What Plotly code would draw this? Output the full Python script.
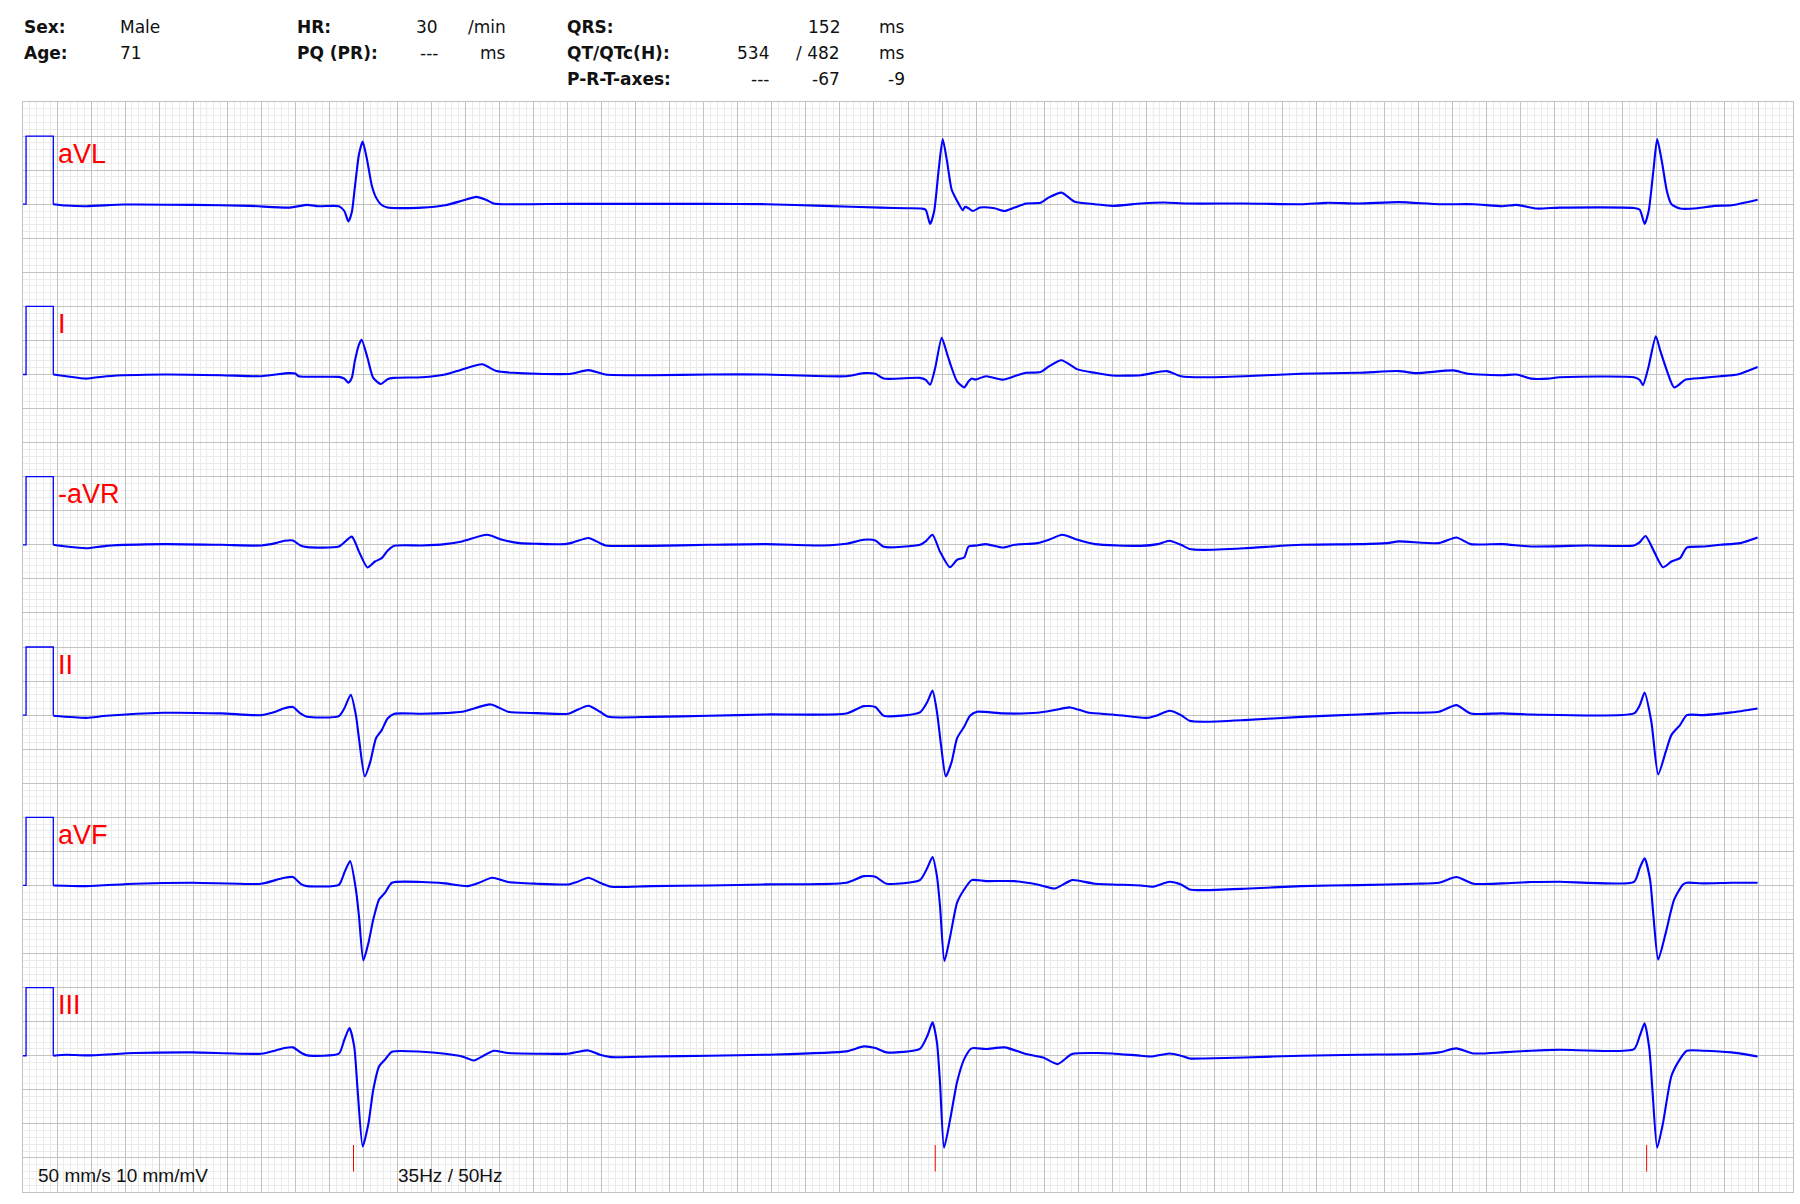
import plotly.graph_objects as go

# ---------------- data (time in s, amplitude in mV) ----------------
lead_names = ["aVL", "I", "-aVR", "II", "aVF", "III"]

cal_t = [0.0, 0.009, 0.009, 0.089, 0.089]
cal_mv = [0.0, 0.0, 1.0, 1.0, 0.0]

qrs_marks_t = [0.971, 2.680, 4.770]

avl_pts = [
    (0.089, 0.0), (0.127, -0.02), (0.186, -0.03), (0.296, -0.005), (0.498, -0.01),
    (0.666, -0.025), (0.784, -0.05), (0.835, -0.01), (0.869, -0.03), (0.928, -0.03),
    (0.944, -0.1), (0.956, -0.255), (0.966, -0.12), (0.975, 0.25), (0.987, 0.73),
    (0.998, 0.92), (1.012, 0.62), (1.024, 0.29), (1.037, 0.1), (1.051, 0.0),
    (1.071, -0.05), (1.172, -0.05), (1.240, -0.015), (1.290, 0.05), (1.332, 0.108),
    (1.358, 0.07), (1.383, 0.01), (1.408, 0.0), (1.610, 0.005), (1.846, 0.005),
    (2.015, 0.005), (2.183, 0.0), (2.352, -0.025), (2.520, -0.05), (2.600, -0.06),
    (2.640, -0.064), (2.652, -0.08), (2.665, -0.29), (2.677, -0.1), (2.690, 0.5),
    (2.702, 0.955), (2.715, 0.62), (2.728, 0.22), (2.744, 0.05), (2.761, -0.09),
    (2.767, -0.04), (2.778, -0.06), (2.790, -0.1), (2.812, -0.05), (2.854, -0.06),
    (2.883, -0.1), (2.913, -0.05), (2.947, 0.01), (2.989, 0.02), (3.014, 0.1),
    (3.051, 0.17), (3.090, 0.035), (3.149, 0.0), (3.200, -0.025), (3.284, 0.01),
    (3.351, 0.025), (3.419, 0.01), (3.587, 0.01), (3.756, 0.0), (3.830, 0.02),
    (3.924, 0.01), (4.042, 0.03), (4.160, 0.0), (4.261, 0.0), (4.346, -0.03),
    (4.388, -0.01), (4.447, -0.064), (4.514, -0.05), (4.733, -0.055), (4.750, -0.08),
    (4.764, -0.29), (4.776, -0.1), (4.790, 0.5), (4.801, 0.955), (4.815, 0.62),
    (4.830, 0.18), (4.843, 0.0), (4.868, -0.064), (4.919, -0.06), (4.969, -0.025),
    (5.020, -0.015), (5.096, 0.065),
]

i_pts = [
    (0.089, 0.0), (0.127, -0.025), (0.186, -0.06), (0.245, -0.025), (0.414, 0.0),
    (0.582, -0.01), (0.700, -0.025), (0.742, 0.0), (0.780, 0.02), (0.800, 0.015),
    (0.810, -0.025), (0.928, -0.035), (0.944, -0.06), (0.956, -0.12), (0.966, -0.05),
    (0.975, 0.2), (0.987, 0.44), (0.995, 0.51), (1.012, 0.245), (1.029, -0.05),
    (1.051, -0.14), (1.071, -0.07), (1.088, -0.05), (1.172, -0.04), (1.240, 0.0),
    (1.290, 0.075), (1.349, 0.15), (1.391, 0.05), (1.440, 0.025), (1.509, 0.01),
    (1.610, 0.01), (1.661, 0.064), (1.711, 0.0), (1.846, -0.01), (2.015, 0.0),
    (2.183, 0.0), (2.419, -0.025), (2.470, 0.02), (2.504, 0.01), (2.529, -0.06),
    (2.635, -0.05), (2.652, -0.08), (2.665, -0.15), (2.680, 0.1), (2.699, 0.54),
    (2.715, 0.3), (2.728, 0.1), (2.744, -0.1), (2.765, -0.19), (2.778, -0.1),
    (2.787, -0.06), (2.798, -0.075), (2.829, -0.025), (2.879, -0.075), (2.913, -0.025),
    (2.947, 0.025), (2.989, 0.035), (3.014, 0.12), (3.051, 0.21), (3.098, 0.075),
    (3.149, 0.025), (3.200, -0.015), (3.284, -0.01), (3.360, 0.05), (3.402, -0.025),
    (3.469, -0.04), (3.587, -0.025), (3.756, 0.01), (3.924, 0.025), (4.042, 0.05),
    (4.093, 0.02), (4.202, 0.06), (4.245, 0.01), (4.346, -0.01), (4.388, 0.0),
    (4.430, -0.06), (4.481, -0.06), (4.514, -0.04), (4.733, -0.04), (4.750, -0.08),
    (4.759, -0.157), (4.775, 0.1), (4.797, 0.56), (4.810, 0.35), (4.830, 0.05),
    (4.851, -0.19), (4.885, -0.075), (4.936, -0.05), (4.986, -0.025), (5.037, 0.0),
    (5.096, 0.11),
]

maVR_pts = [
    (0.089, 0.0), (0.127, -0.025), (0.186, -0.05), (0.245, -0.015), (0.414, 0.01),
    (0.582, 0.0), (0.700, -0.01), (0.742, 0.025), (0.768, 0.06), (0.793, 0.064),
    (0.815, -0.01), (0.835, -0.034), (0.928, -0.025), (0.966, 0.12), (0.987, -0.1),
    (1.012, -0.333), (1.034, -0.245), (1.054, -0.196), (1.071, -0.088), (1.091, -0.015),
    (1.172, -0.01), (1.240, 0.01), (1.290, 0.05), (1.363, 0.147), (1.408, 0.074),
    (1.459, 0.025), (1.509, 0.015), (1.593, 0.01), (1.619, 0.04), (1.661, 0.1),
    (1.695, 0.025), (1.711, -0.01), (1.846, -0.015), (2.015, 0.0), (2.183, 0.01),
    (2.352, -0.01), (2.419, 0.015), (2.470, 0.074), (2.504, 0.064), (2.529, -0.03),
    (2.635, 0.0), (2.652, 0.05), (2.672, 0.147), (2.694, -0.1), (2.723, -0.33),
    (2.744, -0.22), (2.765, -0.186), (2.778, -0.025), (2.803, -0.01), (2.829, 0.01),
    (2.879, -0.04), (2.913, 0.0), (2.980, 0.025), (3.014, 0.074), (3.053, 0.147),
    (3.098, 0.074), (3.149, 0.01), (3.284, -0.015), (3.334, 0.01), (3.368, 0.06),
    (3.402, 0.0), (3.427, -0.06), (3.469, -0.074), (3.587, -0.05), (3.756, 0.0),
    (3.924, 0.01), (4.008, 0.025), (4.042, 0.05), (4.160, 0.025), (4.211, 0.108),
    (4.253, 0.01), (4.346, 0.01), (4.430, -0.025), (4.598, -0.01), (4.733, -0.01),
    (4.750, 0.04), (4.767, 0.13), (4.792, -0.1), (4.818, -0.33), (4.843, -0.245),
    (4.868, -0.196), (4.888, -0.04), (4.936, -0.025), (4.986, 0.0), (5.045, 0.025),
    (5.096, 0.108),
]

ii_pts = [
    (0.089, -0.01), (0.186, -0.04), (0.245, -0.01), (0.414, 0.034), (0.582, 0.025),
    (0.700, 0.0), (0.742, 0.05), (0.768, 0.1), (0.793, 0.12), (0.815, 0.025),
    (0.835, -0.025), (0.928, -0.015), (0.944, 0.1), (0.963, 0.30), (0.978, 0.0),
    (0.987, -0.34), (1.004, -0.9), (1.020, -0.69), (1.037, -0.34), (1.054, -0.22),
    (1.071, -0.05), (1.091, 0.02), (1.172, 0.02), (1.290, 0.05), (1.374, 0.157),
    (1.425, 0.05), (1.509, 0.03), (1.602, 0.02), (1.627, 0.074), (1.661, 0.137),
    (1.695, 0.05), (1.720, -0.025), (1.846, -0.025), (2.015, -0.01), (2.183, 0.01),
    (2.419, 0.025), (2.470, 0.132), (2.504, 0.12), (2.529, -0.01), (2.635, 0.04),
    (2.657, 0.196), (2.672, 0.36), (2.685, 0.05), (2.697, -0.44), (2.711, -0.9),
    (2.728, -0.69), (2.744, -0.34), (2.765, -0.17), (2.782, -0.01), (2.803, 0.05),
    (2.879, 0.025), (2.980, 0.034), (3.031, 0.074), (3.076, 0.113), (3.132, 0.034),
    (3.200, 0.01), (3.301, -0.04), (3.334, 0.0), (3.368, 0.064), (3.402, 0.0),
    (3.427, -0.083), (3.469, -0.098), (3.587, -0.074), (3.756, -0.025), (3.924, 0.01),
    (4.042, 0.034), (4.160, 0.05), (4.211, 0.147), (4.253, 0.025), (4.346, 0.025),
    (4.430, 0.01), (4.733, 0.025), (4.750, 0.147), (4.764, 0.33), (4.784, -0.1),
    (4.804, -0.87), (4.826, -0.54), (4.843, -0.29), (4.868, -0.147), (4.888, 0.0),
    (4.936, 0.0), (5.020, 0.04), (5.096, 0.098),
]

avf_pts = [
    (0.089, 0.0), (0.186, -0.01), (0.329, 0.025), (0.498, 0.04), (0.700, 0.025),
    (0.742, 0.078), (0.768, 0.113), (0.793, 0.123), (0.818, 0.015), (0.835, -0.01),
    (0.928, 0.01), (0.944, 0.186), (0.961, 0.358), (0.978, -0.06), (0.987, -0.45),
    (1.000, -1.10), (1.015, -0.84), (1.029, -0.5), (1.046, -0.206), (1.063, -0.11),
    (1.084, 0.04), (1.172, 0.05), (1.240, 0.03), (1.307, -0.01), (1.340, 0.04),
    (1.378, 0.113), (1.425, 0.05), (1.509, 0.025), (1.602, 0.015), (1.627, 0.05),
    (1.661, 0.113), (1.695, 0.04), (1.728, -0.02), (1.846, -0.01), (2.015, 0.0),
    (2.183, 0.015), (2.419, 0.04), (2.470, 0.137), (2.504, 0.127), (2.537, 0.025),
    (2.635, 0.078), (2.657, 0.26), (2.672, 0.417), (2.685, 0.137), (2.694, -0.30),
    (2.707, -1.11), (2.724, -0.745), (2.744, -0.255), (2.765, -0.06), (2.787, 0.078),
    (2.829, 0.064), (2.913, 0.064), (2.980, 0.015), (3.031, -0.044), (3.082, 0.078),
    (3.149, 0.025), (3.284, 0.0), (3.318, -0.02), (3.368, 0.054), (3.402, 0.015),
    (3.427, -0.059), (3.469, -0.069), (3.587, -0.049), (3.756, -0.01), (3.924, 0.005),
    (4.093, 0.025), (4.160, 0.04), (4.211, 0.123), (4.261, 0.025), (4.346, 0.03),
    (4.430, 0.05), (4.514, 0.054), (4.733, 0.054), (4.750, 0.26), (4.764, 0.397),
    (4.780, 0.088), (4.790, -0.45), (4.804, -1.09), (4.826, -0.70), (4.851, -0.206),
    (4.877, 0.015), (4.888, 0.04), (4.936, 0.03), (5.020, 0.04), (5.096, 0.04),
]

iii_pts = [
    (0.089, 0.0), (0.127, 0.015), (0.186, 0.005), (0.329, 0.04), (0.498, 0.049),
    (0.700, 0.03), (0.742, 0.078), (0.768, 0.113), (0.793, 0.123), (0.818, 0.04),
    (0.835, 0.005), (0.928, 0.03), (0.944, 0.235), (0.959, 0.407), (0.973, 0.137),
    (0.983, -0.50), (0.998, -1.33), (1.015, -0.99), (1.029, -0.50), (1.046, -0.157),
    (1.063, -0.059), (1.084, 0.059), (1.172, 0.059), (1.240, 0.03), (1.290, -0.01),
    (1.324, -0.069), (1.358, 0.015), (1.383, 0.074), (1.425, 0.04), (1.509, 0.03),
    (1.602, 0.03), (1.627, 0.054), (1.661, 0.078), (1.695, 0.015), (1.728, -0.02),
    (1.846, -0.01), (2.015, 0.0), (2.183, 0.015), (2.419, 0.064), (2.470, 0.137),
    (2.504, 0.113), (2.537, 0.049), (2.635, 0.1), (2.657, 0.294), (2.672, 0.49),
    (2.685, 0.196), (2.694, -0.39), (2.706, -1.35), (2.724, -0.93), (2.744, -0.39),
    (2.765, -0.049), (2.787, 0.108), (2.829, 0.098), (2.884, 0.123), (2.947, 0.025),
    (2.997, -0.025), (3.039, -0.123), (3.082, 0.025), (3.149, 0.04), (3.200, 0.034),
    (3.284, 0.0), (3.318, -0.01), (3.368, 0.034), (3.402, 0.0), (3.427, -0.04),
    (3.469, -0.04), (3.587, -0.025), (3.756, 0.0), (3.924, 0.015), (4.093, 0.025),
    (4.160, 0.049), (4.211, 0.108), (4.261, 0.034), (4.346, 0.049), (4.430, 0.074),
    (4.514, 0.088), (4.733, 0.098), (4.750, 0.294), (4.764, 0.475), (4.778, 0.098),
    (4.787, -0.50), (4.801, -1.35), (4.818, -0.99), (4.843, -0.294), (4.868, -0.049),
    (4.888, 0.074), (4.936, 0.074), (5.020, 0.049), (5.096, -0.01),
]

lead_points = [avl_pts, i_pts, maVR_pts, ii_pts, avf_pts, iii_pts]

# header texts
sex, age = "Male", "71"
hr, pq = "30", "---"
qrs, qt, qtc = "152", "534", "/ 482"
p_ax, r_ax, t_ax = "---", "-67", "-9"
speed_text = "50 mm/s 10 mm/mV"
filter_text = "35Hz / 50Hz"

# ---------------- layout geometry ----------------
W, H = 1800, 1204
ML, MR, MT, MB = 23, 7, 102, 12
X_RANGE = [0, 5.2]          # seconds (50 mm/s, 260 mm)
Y_RANGE = [-16.0, 0.0]      # mV (10 mm/mV, 160 mm)
ROW_GAP = 2.5
FIRST_BASE = -1.5

TRACE_COLOR = "rgb(0,0,255)"

fig = go.Figure()

for k, (name, pts) in enumerate(zip(lead_names, lead_points)):
    base = FIRST_BASE - k * ROW_GAP
    # calibration pulse
    fig.add_trace(go.Scatter(
        x=cal_t, y=[base + v for v in cal_mv], mode="lines",
        line=dict(color=TRACE_COLOR, width=1.3), hoverinfo="skip", showlegend=False))
    ts = [p[0] for p in pts]
    vs = [base + p[1] for p in pts]
    fig.add_trace(go.Scatter(
        x=ts, y=vs, mode="lines",
        line=dict(color=TRACE_COLOR, width=2.1, shape="spline", smoothing=0.6),
        hoverinfo="skip", showlegend=False))
    fig.add_annotation(
        x=0.097, y=base + 0.74, xref="x", yref="y", text=name, showarrow=False,
        xanchor="left", yanchor="middle",
        font=dict(family="Liberation Sans, Arial, sans-serif", size=27, color="red"))

# QRS markers
mx, my = [], []
for t in qrs_marks_t:
    mx += [t, t, None]
    my += [-15.31, -15.70, None]
fig.add_trace(go.Scatter(x=mx, y=my, mode="lines", line=dict(color="red", width=1),
                         hoverinfo="skip", showlegend=False))

# bottom texts
for txt, xx in [(speed_text, 0.039), (filter_text, 1.097)]:
    fig.add_annotation(x=xx, y=-15.76, xref="x", yref="y", text=txt, showarrow=False,
                       xanchor="left", yanchor="middle",
                       font=dict(family="Liberation Sans, Arial, sans-serif", size=19, color="#111"))

# header
plot_w = W - ML - MR
plot_h = H - MT - MB


def px(x):
    return (x - ML) / plot_w


def py(y):
    return 1 + (MT - y) / plot_h


HFONT = "DejaVu Sans, Verdana, sans-serif"
rows = [26.5, 53, 79.5]
header = [
    ("<b>Sex:</b>", 22, rows[0], "left"), (sex, 118, rows[0], "left"),
    ("<b>Age:</b>", 22, rows[1], "left"), (age, 118, rows[1], "left"),
    ("<b>HR:</b>", 295, rows[0], "left"), (hr, 440, rows[0], "right"),
    ("/min", 508, rows[0], "right"),
    ("<b>PQ (PR):</b>", 295, rows[1], "left"), (pq, 440, rows[1], "right"),
    ("ms", 508, rows[1], "right"),
    ("<b>QRS:</b>", 565, rows[0], "left"), (qrs, 842, rows[0], "right"),
    ("ms", 907, rows[0], "right"),
    ("<b>QT/QTc(H):</b>", 565, rows[1], "left"), (qt, 771, rows[1], "right"),
    (qtc, 842, rows[1], "right"), ("ms", 907, rows[1], "right"),
    ("<b>P-R-T-axes:</b>", 565, rows[2], "left"), (p_ax, 771, rows[2], "right"),
    (r_ax, 842, rows[2], "right"), (t_ax, 907, rows[2], "right"),
]
for txt, x, y, anc in header:
    fig.add_annotation(x=px(x), y=py(y), xref="paper", yref="paper", text=txt,
                       showarrow=False, xanchor=anc, yanchor="middle",
                       font=dict(family=HFONT, size=17, color="#111"))

axis_common = dict(
    showticklabels=False, ticks="", zeroline=False, showgrid=True,
    gridcolor="#c2c2c2", gridwidth=1, tick0=0,
    showline=True, linecolor="#c2c2c2", linewidth=1, mirror=True, fixedrange=True,
)
fig.update_xaxes(range=X_RANGE, dtick=0.1,
                 minor=dict(dtick=0.02, tick0=0, showgrid=True, gridcolor="#ebebeb", gridwidth=1),
                 **axis_common)
fig.update_yaxes(range=Y_RANGE, dtick=0.5,
                 minor=dict(dtick=0.1, tick0=0, showgrid=True, gridcolor="#ebebeb", gridwidth=1),
                 **axis_common)

fig.update_layout(
    width=W, height=H, autosize=False,
    margin=dict(l=ML, r=MR, t=MT, b=MB, pad=0),
    paper_bgcolor="white", plot_bgcolor="white",
    showlegend=False, hovermode=False,
)

fig.write_html("out.html", config={"displayModeBar": False},
               post_script="document.body.style.margin='0';")
